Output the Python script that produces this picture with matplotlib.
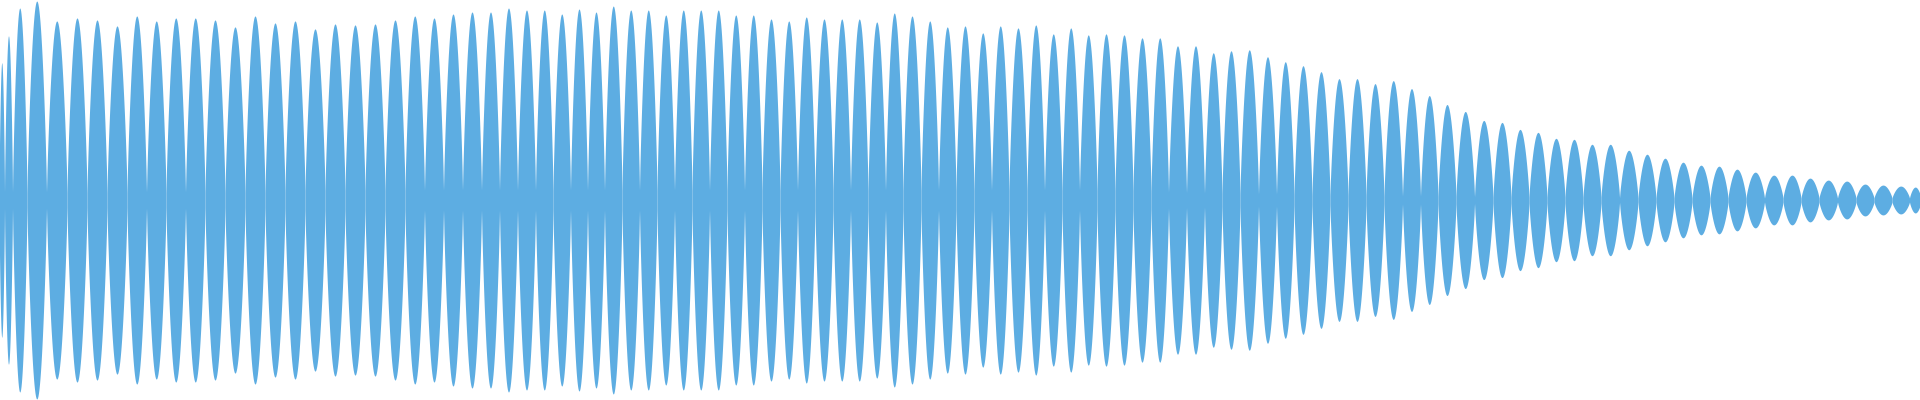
import numpy as np
import matplotlib
matplotlib.use("Agg")
import matplotlib.pyplot as plt

# lobe centres (sample position) and peak amplitude of each beat lobe
centers = [2, 7, 18, 36, 57, 77, 97, 117, 137, 156, 176, 195, 215, 235, 255, 275,
           295, 315, 335, 355, 375, 395, 415, 434, 453, 472, 491, 508, 527, 544, 562, 579,
           596, 613, 631, 648, 666, 683, 701, 718,
           736, 753, 771, 789, 806, 824, 842, 859, 877, 894, 912, 930, 947, 965, 983, 1000,
           1018, 1036, 1053, 1071, 1088, 1106, 1124, 1142,
           1160, 1177, 1196, 1213, 1231, 1249, 1268, 1285, 1303, 1321, 1339, 1357, 1375,
           1393, 1412, 1429, 1447, 1465, 1484, 1502, 1520, 1538, 1556, 1574, 1592, 1610,
           1629, 1647, 1665, 1683, 1701, 1719, 1737, 1755, 1774, 1792, 1810, 1828, 1847,
           1865, 1883, 1901, 1918]
peaks = [138, 165, 193, 200, 180, 183, 181, 175, 185, 180, 183, 183, 181, 174, 185, 178,
         180, 172, 177, 176, 177, 181, 185, 183, 187, 189, 189, 193, 191, 191, 187, 192,
         189, 195, 191, 191, 186, 191, 191, 191,
         186, 186, 182, 180, 184, 182, 182, 182, 179, 188, 185, 180, 174, 175, 168, 175,
         173, 176, 167, 173, 166, 167, 166, 163,
         163, 155, 155, 148, 150, 151, 144, 139, 135, 129, 122, 122, 117,
         120, 112, 105, 96, 89, 80, 78, 71, 68, 62, 61, 56, 56,
         50, 46, 42, 38, 35, 34, 31, 28, 25, 25, 22, 20, 19,
         16, 15, 14, 13]
troughs = ([8] * 16 + [10] * 24 + [10] * 24
           + [8, 8, 7, 7, 7, 6, 6, 6, 5, 5, 5, 5, 4, 4, 4, 4, 4, 4, 3, 3, 3, 3, 3, 3, 3, 3]
           + [2] * 17)

centers = np.array(centers, float)
peaks = np.array(peaks, float)
troughs = np.array(troughs, float)
edges = np.concatenate([[centers[0] - 3], (centers[1:] + centers[:-1]) / 2, [1921]])

fig = plt.figure(figsize=(19.2, 4), dpi=100)
ax = fig.add_axes([0, 0, 1, 1])
color = "#5DADE2"
for i in range(len(centers)):
    x = np.linspace(edges[i], edges[i + 1], 40)
    t = (x - edges[i]) / (edges[i + 1] - edges[i])
    env = troughs[i] + (peaks[i] - troughs[i]) * np.sin(np.pi * t) ** 0.8
    ax.fill_between(x, -env, env, color=color, linewidth=0)
ax.set_xlim(0, 1920)
ax.set_ylim(-201, 201)
ax.axis("off")
fig.savefig("out.png", dpi=100)
